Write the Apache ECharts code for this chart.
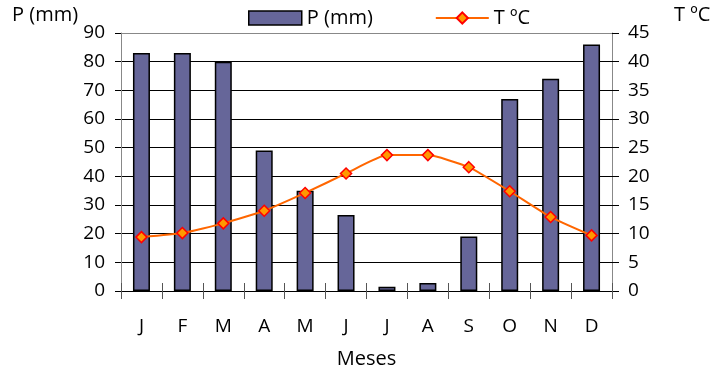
<!DOCTYPE html>
<html><head><meta charset="utf-8">
<script src="https://cdn.jsdelivr.net/npm/echarts@6/dist/echarts.min.js"></script>
<style>html,body{margin:0;padding:0;background:#fff}#c{width:717px;height:374px}</style>
</head><body><div id="c"></div>
<script>
const months = ['J','F','M','A','M','J','J','A','S','O','N','D'];
const precip = [83, 83, 80, 49, 35, 26.5, 1.5, 2.8, 19, 67, 74, 86];
const temp = [9.4, 10.1, 11.8, 14.0, 17.1, 20.5, 23.7, 23.7, 21.6, 17.4, 12.9, 9.7];
const FONT = 'Open Sans';
const chart = echarts.init(document.getElementById('c'));
const splitColors = ['#000','#000','#000','#000','#000','#000','#000','#000','#000','#888'];
chart.setOption({
  animation: false,
  textStyle: {fontFamily: FONT, color: '#000'},
  grid: {left: 121, right: 105, top: 33, bottom: 83},
  legend: {
    top: 3, left: 243, itemGap: 62, itemWidth: 53, itemHeight: 14,
    textStyle: {fontFamily: FONT, fontSize: 20, color: '#000'},
    data: [
      {name: 'P (mm)', icon: 'rect', itemStyle: {color: '#666699', borderColor: '#000', borderWidth: 1.5}},
      {name: 'T ºC'}
    ]
  },
  xAxis: [{
    type: 'category', data: months, position: 'bottom',
    name: 'Meses', nameLocation: 'middle', nameGap: 58,
    nameTextStyle: {fontFamily: FONT, fontSize: 20, color: '#000'},
    axisLine: {lineStyle: {color: '#000', width: 1}},
    axisTick: {show: true, inside: false, length: 8, lineStyle: {color: '#555'}},
    axisLabel: {fontFamily: FONT, fontSize: 19, color: '#000', margin: 26}
  }, {
    type: 'category', data: months, position: 'bottom',
    axisLine: {show: false},
    axisTick: {show: true, inside: true, length: 8, lineStyle: {color: '#555'}},
    axisLabel: {show: false}
  }],
  yAxis: [{
    type: 'value', min: 0, max: 90, interval: 10, position: 'left',
    axisLine: {show: true, lineStyle: {color: '#888'}},
    axisTick: {show: true, length: 6, lineStyle: {color: '#000'}},
    axisLabel: {fontFamily: FONT, fontSize: 19, color: '#000', margin: 16},
    splitLine: {show: true, lineStyle: {color: splitColors, width: 1}}
  }, {
    type: 'value', min: 0, max: 45, interval: 5, position: 'right',
    axisLine: {show: true, lineStyle: {color: '#888'}},
    axisTick: {show: true, length: 7, lineStyle: {color: '#000'}},
    axisLabel: {fontFamily: FONT, fontSize: 19, color: '#000', margin: 16},
    splitLine: {show: false}
  }],
  series: [{
    name: 'P (mm)', type: 'bar', data: precip, yAxisIndex: 0, barWidth: 17,
    itemStyle: {color: '#666699', borderColor: '#000', borderWidth: 1.5}
  }, {
    name: 'T ºC', type: 'line', data: temp, yAxisIndex: 1, smooth: 0.15,
    symbol: 'diamond', symbolSize: 11,
    lineStyle: {color: '#FF6600', width: 2},
    itemStyle: {color: '#FF9900', borderColor: '#FF0000', borderWidth: 1.5}
  }],
  graphic: [
    {type: 'text', left: 12, top: 5, style: {text: 'P (mm)', font: '20px "Open Sans"', fill: '#000'}},
    {type: 'text', left: 674, top: 5, style: {text: 'T ºC', font: '20px "Open Sans"', fill: '#000'}}
  ]
});
</script></body></html>
